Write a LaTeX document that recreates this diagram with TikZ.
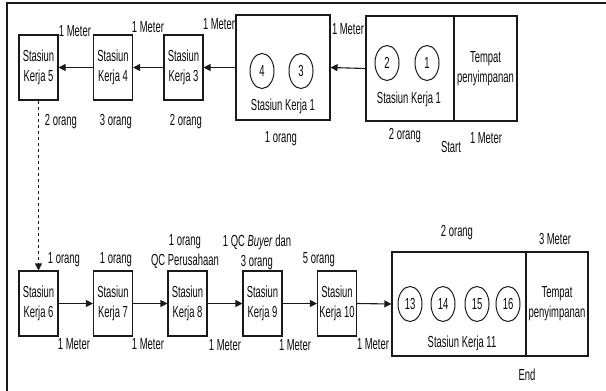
\documentclass[tikz,border=0pt]{standalone}
\usepackage{fontspec}
\setmainfont{Liberation Sans}[FakeStretch=0.59]
\usepackage{tikz}
\usetikzlibrary{positioning,arrows.meta,shapes.geometric}
\definecolor{LineDark}{HTML}{1A1A1A}
\definecolor{TextDark}{HTML}{0A0A0A}
\tikzset{
  stationbox/.style={draw=LineDark, line width=1.1pt, minimum width=39pt,
    minimum height=65pt, inner sep=0pt, align=center, text=TextDark},
  bigbox/.style={draw=LineDark, line width=1.1pt, inner sep=0pt,
    align=center, text=TextDark},
  machine/.style={ellipse, draw=LineDark, line width=1pt, minimum width=24pt,
    minimum height=35pt, inner sep=0pt, text=TextDark},
  lbl/.style={inner sep=0pt, align=center, text=TextDark},
  flow/.style={draw=LineDark, line width=1.1pt, -{Triangle[length=7pt,width=7pt]}}
}

\begin{document}
\begin{tikzpicture}[x=1pt, y=-1pt, font=\fontsize{16}{20}\selectfont]
  \useasboundingbox (0,0) rectangle (606,391);
  % frame
  \draw[line width=1.5pt, LineDark] (606,3) -- (7,3) -- (7,391);

  % top row
  \node[stationbox] (sk5) at (38.5,67.5) {Stasiun\\Kerja 5};
  \node[stationbox] (sk4) at (113,67.5) {Stasiun\\Kerja 4};
  \node[stationbox] (sk3) at (183.5,67.5) {Stasiun\\Kerja 3};
  \node[bigbox, minimum width=94pt, minimum height=105pt] (sk1a) at (283,67.5) {};
  \node[bigbox, minimum width=88pt, minimum height=105pt] (sk1b) at (410,68.5) {};
  \node[bigbox, minimum width=63pt, minimum height=105pt] (store1) at (485.5,68.5)
    {Tempat\\penyimpanan};

  \node[machine] (m4) at (262,71) {4};
  \node[machine] (m3) at (301,71) {3};
  \node[lbl] (sk1aname) at (283,106) {Stasiun Kerja 1};
  \node[machine] (m2) at (387,63) {2};
  \node[machine] (m1) at (427,63) {1};
  \node[lbl] (sk1bname) at (409,99) {Stasiun Kerja 1};

  \draw[flow] (sk1b.west) -- (sk1a.east);
  \draw[flow] (sk1a.west) -- (sk3.east);
  \draw[flow] (sk3.west) -- (sk4.east);
  \draw[flow] (sk4.west) -- (sk5.east);

  \node[lbl] (jar5) at (75,31) {1 Meter};
  \node[lbl] (jar4) at (148,27) {1 Meter};
  \node[lbl] (jar3) at (219,24) {1 Meter};
  \node[lbl] (jar1) at (348,29) {1 Meter};
  \node[lbl] (org5) at (61,122) {2 orang};
  \node[lbl] (org4) at (116,122) {3 orang};
  \node[lbl] (org3) at (186,122) {2 orang};
  \node[lbl] (org1a) at (281,139) {1 orang};
  \node[lbl] (org1b) at (405,136) {2 orang};
  \node[lbl] (start) at (451,147) {Start};
  \node[lbl] (jarstore1) at (486,138) {1 Meter};

  % bottom row
  \node[stationbox] (sk6) at (38.5,303.5) {Stasiun\\Kerja 6};
  \node[stationbox] (sk7) at (113,303.5) {Stasiun\\Kerja 7};
  \node[stationbox] (sk8) at (187.5,303.5) {Stasiun\\Kerja 8};
  \node[stationbox] (sk9) at (262.5,303.5) {Stasiun\\Kerja 9};
  \node[stationbox] (sk10) at (337,303.5) {Stasiun\\Kerja 10};
  \node[bigbox, minimum width=134pt, minimum height=104pt] (sk11) at (459,304) {};
  \node[bigbox, minimum width=62pt, minimum height=104pt] (store2) at (557,304)
    {Tempat\\penyimpanan};

  \node[machine] (m13) at (410,304) {13};
  \node[machine] (m14) at (443,304) {14};
  \node[machine] (m15) at (477,304) {15};
  \node[machine] (m16) at (508,304) {16};
  \node[lbl] (sk11name) at (462,343) {Stasiun Kerja 11};

  \draw[flow, dashed] (sk5.south) -- (sk6.north);
  \draw[flow] (sk6.east) -- (sk7.west);
  \draw[flow] (sk7.east) -- (sk8.west);
  \draw[flow] (sk8.east) -- (sk9.west);
  \draw[flow] (sk9.east) -- (sk10.west);
  \draw[flow] (sk10.east) -- (sk11.west);

  \node[lbl] (org6) at (64,260) {1 orang};
  \node[lbl] (org7) at (116,260) {1 orang};
  \node[lbl] (org8) at (185,252) {1 orang\\QC Perusahaan};
  \node[lbl] (org9) at (257,252) {1 QC \textit{Buyer} dan\\3 orang};
  \node[lbl] (org10) at (319,260) {5 orang};
  \node[lbl] (org11) at (457,233) {2 orang};
  \node[lbl] (jarstore2) at (555,239) {3 Meter};
  \node[lbl] (jar6) at (74,344) {1 Meter};
  \node[lbl] (jar7) at (148,344) {1 Meter};
  \node[lbl] (jar8) at (225,345) {1 Meter};
  \node[lbl] (jar9) at (295,345) {1 Meter};
  \node[lbl] (jar10) at (373,344) {1 Meter};
  \node[lbl] (end) at (527,375) {End};
\end{tikzpicture}
\end{document}
